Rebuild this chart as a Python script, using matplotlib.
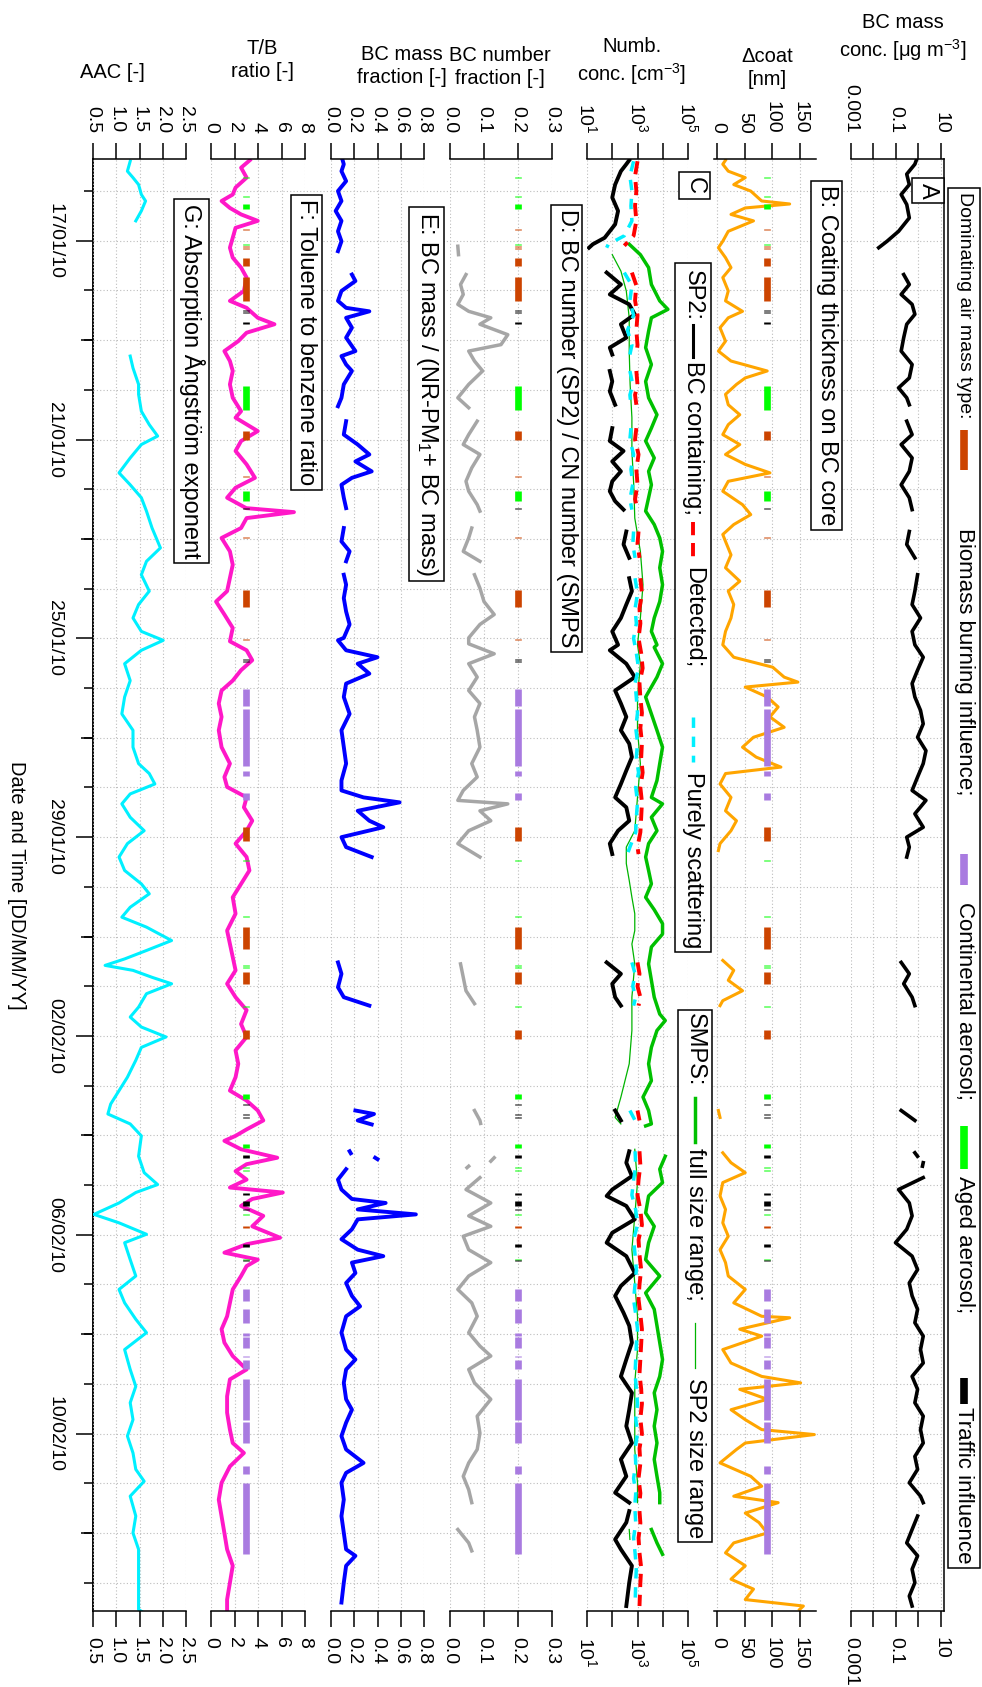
import datetime as dt
import numpy as np
import matplotlib
matplotlib.use("Agg")
import matplotlib.pyplot as plt
import matplotlib.dates as mdates
from matplotlib.lines import Line2D
from matplotlib.patches import Rectangle
from matplotlib.ticker import NullLocator

plt.rcParams['font.family'] = ['Liberation Sans', 'DejaVu Sans']
plt.rcParams['mathtext.fontset'] = 'custom'
plt.rcParams['mathtext.rm'] = 'Liberation Sans'
plt.rcParams['mathtext.it'] = 'Liberation Sans:italic'
plt.rcParams['mathtext.bf'] = 'Liberation Sans:bold'
plt.rcParams['axes.linewidth'] = 1.1

# ---------------- data (time = days after 16/01/2010 00:00) ----------------
T0 = mdates.date2num(dt.datetime(2010, 1, 16))

# A: BC mass conc. [ug m-3]
A_PTS = [(-0.62, 0.80), (-0.54, 0.69), (-0.34, 0.30), (-0.13, 0.39), (0.07, 0.17), (0.27, 0.30),
         (0.54, 0.39), (0.81, 0.13), (1.01, 0.040), (1.14, 0.017), None,
         (1.68, 0.22), (1.88, 0.39), (2.08, 0.17), (2.28, 0.52), (2.48, 0.69), (2.68, 0.30), (2.95, 0.22),
         (3.22, 0.17), (3.49, 0.52), (3.76, 0.39), (3.96, 0.13), (4.16, 0.30), (4.30, 0.39), None,
         (4.63, 0.30), (4.90, 0.52), (5.10, 0.17), (5.37, 0.52), (5.64, 0.39), (5.91, 0.17), (6.17, 0.39),
         (6.41, 0.52), None,
         (6.85, 0.39), (7.11, 0.30), (7.38, 0.69), None,
         (7.72, 0.91), (8.05, 0.69), (8.32, 0.52), (8.59, 1.23), (8.86, 0.52), (9.13, 0.69), (9.38, 1.62),
         (9.64, 0.91), (9.91, 0.52), (10.18, 0.69), (10.45, 1.23), (10.72, 1.62), (10.99, 0.91), (11.26, 2.14),
         (11.52, 1.62), (11.79, 0.91), (12.06, 0.52), (12.26, 2.14), (12.53, 0.69), (12.80, 1.62), (13.00, 0.30),
         (13.20, 0.39), (13.40, 0.30), None,
         (15.52, 0.17), (15.75, 0.39), (15.95, 0.22), (16.22, 0.52), (16.39, 0.69), None,
         (18.50, 0.17), (18.70, 0.69), None,
         (19.35, 0.69), (19.42, 0.90), None, (19.55, 1.62), (19.62, 1.50), None,
         (19.85, 1.62), (20.09, 0.13), (20.36, 0.39), (20.62, 0.52), (20.89, 0.30), (21.16, 0.095), (21.43, 0.52),
         (21.70, 0.91), (21.97, 0.39), (22.23, 0.52), (22.50, 0.91), (22.77, 0.69), (23.04, 1.62), (23.31, 1.23),
         (23.58, 1.62), (23.85, 0.52), (24.11, 0.91), (24.38, 0.69), (24.65, 1.62), (24.92, 1.23), (25.19, 1.62),
         (25.46, 0.69), (25.72, 0.91), (25.99, 0.39), (26.26, 1.23), (26.39, 1.62), None,
         (26.66, 0.91), (26.93, 0.52), (27.20, 0.30), (27.46, 0.91), (27.73, 0.52), (28.00, 0.69), (28.27, 0.39),
         (28.47, 0.52)]

# B: coating thickness [nm]
B_PTS = [(-0.62, 15), (-0.54, 10), (-0.40, 20), (-0.27, 51), (-0.13, 30), (0.00, 61), (0.20, 81), (0.26, 132),
         (0.34, 51), (0.47, 25), (0.60, 66), (0.81, 20), (1.01, 10), (1.14, 2), (1.34, 15), (1.54, 25), (1.74, 10),
         (2.01, 20), (2.21, 15), (2.42, 46), (2.55, 20), (2.75, 5), (3.02, 15), (3.22, 2), (3.42, 25), (3.62, 91),
         (3.76, 51), (3.89, 35), (4.09, 15), (4.30, 20), (4.50, 41), (4.70, 20), (4.90, 10), (5.10, 41), (5.30, 15),
         (5.50, 51), (5.67, 96), (5.84, 20), (6.04, 10), (6.31, 46), (6.51, 61), (6.71, 30), (6.91, 10), (7.05, 15),
         (7.32, 25), (7.58, 15), (7.85, 41), (8.05, 20), (8.32, 30), (8.59, 25), (8.86, 15), (9.13, 10),
         (9.38, 30), (9.58, 101), (9.78, 122), (9.88, 147), (9.98, 51), (10.18, 91), (10.38, 111), (10.58, 96),
         (10.79, 122), (10.99, 66), (11.19, 46), (11.39, 71), (11.59, 116), (11.72, 15), (11.93, 5), (12.20, 25),
         (12.47, 15), (12.67, 35), (12.87, 25), (13.13, 5), (13.27, 2), None,
         (15.48, 10), (15.68, 30), (15.88, 20), (16.09, 46), (16.29, 10), (16.39, 5), None,
         (18.50, 2), (18.64, 5), None,
         (19.35, 10), (19.55, 25), (19.75, 51), (19.95, 10), (20.22, 5), (20.49, 15), (20.76, 10), (21.03, 20),
         (21.30, 5), (21.56, 15), (21.83, 20), (22.10, 51), (22.37, 30), (22.64, 81), (22.67, 132), (22.90, 41),
         (23.04, 81), (23.31, 10), (23.58, 25), (23.85, 81), (23.98, 152), (24.11, 41), (24.31, 91), (24.52, 25),
         (24.72, 51), (24.92, 81), (25.02, 177), (25.19, 51), (25.32, 35), (25.59, 5), (25.86, 61), (26.06, 81),
         (26.26, 30), (26.39, 111), (26.60, 51), (26.79, 76), (27.00, 91), (27.20, 30), (27.40, 15), (27.66, 51),
         (27.93, 25), (28.13, 66), (28.34, 51), (28.47, 157), (28.54, 150)]

# C: number concentrations [cm-3]
C_BC_PTS = [(-0.62, 470), (-0.54, 360), (-0.40, 220), (-0.13, 130), (0.13, 100), (0.40, 170), (0.67, 130),
            (0.94, 50), (1.07, 17), (1.14, 12), None,
            (1.64, 60), (1.88, 220), (2.08, 80), (2.28, 470), (2.48, 780), (2.68, 220), (2.95, 360), (3.15, 80),
            (3.29, 100), None,
            (3.62, 80), (3.83, 100), (4.03, 80), (4.30, 130), None,
            (4.77, 100), (5.03, 80), (5.23, 280), (5.44, 100), (5.64, 220), (5.84, 100), (6.04, 80), (6.24, 130),
            (6.41, 280), None,
            (6.85, 360), (7.11, 280), (7.38, 470), None,
            (7.79, 470), (8.05, 600), (8.32, 360), (8.59, 220), (8.86, 100), (9.13, 170), (9.24, 80), (9.51, 360),
            (9.78, 780), (10.05, 130), (10.31, 220), (10.58, 360), (10.85, 220), (11.12, 470), (11.39, 600),
            (11.66, 360), (11.93, 220), (12.20, 130), (12.40, 360), (12.67, 470), (12.87, 170), (13.13, 80),
            (13.34, 100), None,
            (15.52, 60), (15.75, 220), (15.95, 100), (16.22, 130), (16.39, 220), None,
            (18.50, 130), (18.70, 220), None,
            (19.32, 470), (19.55, 360), (19.82, 600), (20.09, 100), (20.22, 60), (20.42, 360), (20.69, 780),
            (20.96, 100), (21.16, 60), (21.43, 360), (21.77, 780), (22.03, 220), (22.23, 130), (22.57, 280),
            (22.83, 470), (23.17, 600), (23.51, 360), (23.85, 220), (24.18, 600), (24.52, 470), (24.85, 360),
            (25.19, 600), (25.52, 220), (25.86, 360), (26.19, 130), (26.39, 470), None,
            (26.56, 470), (26.79, 360), (27.13, 130), (27.33, 220), (27.66, 600), (28.00, 470), (28.47, 360)]

C_DET_PTS = [(-0.60, 1000), (-0.30, 800), (0.00, 900), (0.30, 800), (0.60, 900), (0.90, 700), (1.10, 300), None,
             (1.64, 600), (1.90, 900), (2.20, 800), (2.50, 1000), (2.80, 900), (3.10, 1000), (3.29, 900), None,
             (3.62, 900), (3.90, 1000), (4.10, 800), (4.30, 900), None,
             (4.77, 900), (5.00, 800), (5.30, 1100), (5.60, 900), (5.90, 1000), (6.20, 800), (6.41, 1000), None,
             (6.85, 1100), (7.10, 1000), (7.38, 1200), None,
             (7.79, 1300), (8.10, 1500), (8.40, 1200), (8.70, 1300), (9.00, 1100), (9.30, 1400), (9.60, 1600),
             (9.90, 1200), (10.20, 1300), (10.50, 1500), (10.80, 1300), (11.10, 1500), (11.40, 1400), (11.70, 1600),
             (12.00, 1300), (12.30, 1500), (12.60, 1400), (12.90, 1300), (13.20, 1000), (13.34, 1100), None,
             (15.52, 1000), (15.75, 1200), (16.00, 1000), (16.22, 1300), (16.39, 1100), None,
             (18.50, 1000), (18.70, 1200), None,
             (19.32, 1200), (19.60, 1300), (19.90, 1100), (20.20, 1000), (20.50, 1300), (20.80, 1500), (21.10, 1100),
             (21.40, 1200), (21.70, 1400), (22.00, 1200), (22.30, 1100), (22.60, 1300), (22.90, 1500), (23.20, 1400),
             (23.50, 1300), (23.80, 1200), (24.10, 1400), (24.40, 1500), (24.70, 1300), (25.00, 1500), (25.30, 1200),
             (25.60, 1300), (25.90, 1100), (26.20, 1300), (26.39, 1200), None,
             (26.56, 1200), (26.80, 1300), (27.10, 1100), (27.40, 1200), (27.70, 1400), (28.00, 1300), (28.47, 1200)]

C_SCAT_PTS = [(-0.60, 700), (-0.30, 500), (0.00, 600), (0.30, 550), (0.60, 600), (0.90, 300), (1.07, 70), (1.14, 60),
              None,
              (1.64, 300), (1.90, 600), (2.20, 500), (2.50, 700), (2.80, 400), (3.10, 600), (3.29, 500), None,
              (3.62, 500), (3.90, 650), (4.10, 500), (4.30, 550), None,
              (4.77, 550), (5.00, 500), (5.30, 700), (5.60, 550), (5.90, 650), (6.20, 500), (6.41, 600), None,
              (6.85, 700), (7.10, 650), (7.38, 800), None,
              (7.79, 800), (8.10, 1000), (8.40, 800), (8.70, 900), (9.00, 700), (9.30, 900), (9.60, 1100), (9.90, 800),
              (10.20, 900), (10.50, 1000), (10.80, 850), (11.10, 1000), (11.40, 900), (11.70, 1100), (12.00, 850),
              (12.30, 1000), (12.60, 900), (12.90, 850), (13.20, 500), (13.34, 400), None,
              (15.52, 600), (15.75, 800), (16.00, 650), (16.22, 850), (16.39, 700), None,
              (18.50, 500), (18.70, 800), None,
              (19.32, 800), (19.60, 850), (19.90, 700), (20.20, 600), (20.50, 850), (20.80, 1000), (21.10, 700),
              (21.40, 800), (21.70, 900), (22.00, 800), (22.30, 700), (22.60, 850), (22.90, 1000), (23.20, 900),
              (23.50, 850), (23.80, 800), (24.10, 900), (24.40, 1000), (24.70, 850), (25.00, 1000), (25.30, 800),
              (25.60, 850), (25.90, 700), (26.20, 850), (26.39, 800), None,
              (26.56, 800), (26.80, 850), (27.10, 700), (27.40, 800), (27.70, 900), (28.00, 850), (28.47, 800)]

C_SMPS_FULL_PTS = [(1.07, 470), (1.28, 1300), (1.54, 2750), (1.88, 3550), (2.21, 7600), (2.38, 16000), (2.55, 3550),
                   (2.82, 2750), (3.15, 2100), (3.49, 3550), (3.83, 2100), (4.16, 2750), (4.50, 5900), (4.77, 3550),
                   (5.03, 2100), (5.37, 4600), (5.64, 2750), (5.91, 3550), (6.17, 2750), (6.44, 2100), (6.71, 4600),
                   (6.98, 7600), (7.25, 9800), (7.58, 7600), (7.92, 9800), (8.26, 7600), (8.59, 4600), (8.86, 3550),
                   (9.13, 5900), (9.18, 4600), (9.51, 9800), (9.78, 5900), (10.18, 2100), (10.52, 3550), (10.85, 5900),
                   (11.19, 9800), (11.52, 7600), (11.86, 5900), (12.20, 3550), (12.33, 9800), (12.60, 3550),
                   (12.87, 5900), (13.13, 2750), (13.40, 2100), (13.67, 2750), (13.94, 3550), (14.21, 2100),
                   (14.46, 4600), (14.74, 9800), (14.95, 9800), (15.21, 3550), (15.55, 2750), (15.88, 3550),
                   (16.22, 4600), (16.56, 7600), (16.69, 12600), (16.89, 5900), (17.23, 3550), (17.56, 2750),
                   (17.90, 3550), (18.23, 1650), (18.50, 2750), (18.77, 3550), (18.81, 2100), None,
                   (19.42, 12600), (19.68, 7600), (19.95, 9800), (20.22, 2750), (20.56, 2100), (20.83, 4600),
                   (21.16, 2750), (21.50, 2100), (21.83, 7600), (22.17, 2100), (22.50, 4600), (22.83, 5900),
                   (23.17, 7600), (23.51, 9800), (23.85, 7600), (24.18, 4600), (24.52, 5900), (24.85, 4600),
                   (25.19, 5900), (25.52, 4600), (25.86, 5900), (26.19, 7600), (26.39, 7600), None,
                   (26.93, 3550), (27.20, 5900), (27.43, 9800)]

C_SMPS_SP2_PTS = [(1.28, 100), (1.61, 220), (2.01, 360), (2.55, 470), (3.22, 470), (3.89, 510), (4.56, 600),
                  (5.23, 600), (5.91, 710), (6.58, 780), (7.25, 1300), (7.92, 1650), (8.59, 1300), (9.13, 1000),
                  (9.51, 1300), (10.18, 1000), (10.85, 1000), (11.52, 1300), (12.20, 1000), (12.87, 780),
                  (13.20, 360), (13.53, 360), (13.87, 470), (14.21, 600), (14.54, 780), (14.88, 780), (15.15, 600),
                  (15.55, 780), (16.22, 600), (16.89, 600), (17.56, 470), (18.23, 220), (18.64, 130), (18.77, 220),
                  None,
                  (19.28, 780), (19.95, 1000), (20.62, 780), (21.30, 600), (21.97, 780), (22.64, 1000), (23.31, 1000),
                  (23.98, 780), (24.65, 780), (25.32, 780), (25.99, 1000), (26.39, 1000), None,
                  (26.93, 470), (27.13, 500)]

# D: BC number fraction [-]
D_PTS = [(1.11, 0.023), (1.28, 0.025), None,
         (1.68, 0.047), (1.88, 0.031), (2.08, 0.039), (2.28, 0.023), (2.42, 0.055), (2.55, 0.12), (2.68, 0.088),
         (2.89, 0.17), (3.09, 0.15), (3.22, 0.055), (3.42, 0.072), (3.62, 0.096), (3.89, 0.055), (4.16, 0.023),
         (4.36, 0.055), None,
         (4.63, 0.080), (4.90, 0.055), (5.10, 0.039), (5.30, 0.088), (5.57, 0.064), (5.84, 0.047), (6.04, 0.055),
         (6.31, 0.080), (6.44, 0.088), None,
         (6.78, 0.064), (6.98, 0.055), (7.25, 0.039), (7.45, 0.088), None,
         (7.72, 0.072), (7.99, 0.088), (8.26, 0.10), (8.52, 0.13), (8.72, 0.088), (8.99, 0.055), (9.11, 0.055),
         (9.31, 0.13), (9.51, 0.055), (9.78, 0.080), (10.05, 0.055), (10.31, 0.088), (10.58, 0.072), (10.85, 0.080),
         (11.19, 0.088), (11.52, 0.064), (11.79, 0.080), (12.06, 0.039), (12.26, 0.023), (12.33, 0.17),
         (12.47, 0.088), (12.67, 0.12), (12.87, 0.055), (13.13, 0.023), (13.40, 0.088), None,
         (15.55, 0.031), (15.82, 0.039), (16.09, 0.047), (16.35, 0.072), None,
         (18.50, 0.072), (18.70, 0.088), (18.76, 0.090), None,
         (19.45, 0.13), (19.52, 0.12), None, (19.62, 0.055), (19.65, 0.050), None,
         (19.85, 0.088), (20.09, 0.047), (20.36, 0.12), (20.62, 0.055), (20.83, 0.12), (21.03, 0.039),
         (21.30, 0.055), (21.56, 0.12), (21.83, 0.055), (22.10, 0.023), (22.37, 0.064), (22.64, 0.080),
         (22.97, 0.055), (23.24, 0.088), (23.44, 0.12), (23.71, 0.055), (23.98, 0.072), (24.31, 0.12),
         (24.65, 0.080), (24.99, 0.088), (25.32, 0.080), (25.59, 0.055), (25.86, 0.039), (26.13, 0.055),
         (26.39, 0.064), None,
         (26.93, 0.023), (27.20, 0.055), (27.36, 0.064)]

# E: BC mass fraction [-]
E_PTS = [(-0.62, 0.10), (-0.54, 0.11), (-0.40, 0.09), (-0.20, 0.13), (0.00, 0.06), (0.20, 0.09), (0.40, 0.04),
         (0.60, 0.09), (0.81, 0.06), (1.01, 0.09), (1.21, 0.06), None,
         (1.68, 0.18), (1.81, 0.21), (2.01, 0.09), (2.21, 0.06), (2.35, 0.13), (2.42, 0.33), (2.55, 0.13),
         (2.75, 0.18), (2.95, 0.13), (3.22, 0.21), (3.32, 0.09), (3.49, 0.13), (3.62, 0.18), (3.89, 0.11),
         (4.16, 0.09), (4.33, 0.06), None,
         (4.63, 0.13), (4.90, 0.11), (5.10, 0.23), (5.30, 0.33), (5.44, 0.21), (5.64, 0.35), (5.77, 0.18),
         (5.91, 0.09), (6.17, 0.11), (6.38, 0.13), None,
         (6.78, 0.11), (7.05, 0.09), (7.25, 0.16), (7.45, 0.13), None,
         (7.72, 0.11), (7.92, 0.13), (8.19, 0.11), (8.46, 0.13), (8.72, 0.16), (8.99, 0.11), (9.04, 0.06),
         (9.24, 0.13), (9.38, 0.40), (9.51, 0.23), (9.71, 0.33), (9.91, 0.13), (10.18, 0.11), (10.52, 0.16),
         (10.85, 0.09), (11.19, 0.11), (11.52, 0.13), (11.86, 0.09), (12.06, 0.09), (12.20, 0.28), (12.30, 0.59),
         (12.47, 0.23), (12.67, 0.33), (12.80, 0.45), (13.00, 0.09), (13.20, 0.13), (13.40, 0.35), None,
         (15.52, 0.06), (15.75, 0.09), (16.02, 0.06), (16.22, 0.11), (16.39, 0.33), None,
         (18.50, 0.21), (18.57, 0.37), (18.70, 0.23), (18.78, 0.35), None,
         (19.32, 0.16), (19.36, 0.17), None, (19.45, 0.38), (19.48, 0.40), None,
         (19.68, 0.13), (19.89, 0.06), (20.09, 0.09), (20.28, 0.18), (20.36, 0.47), (20.49, 0.23), (20.59, 0.73),
         (20.69, 0.23), (20.89, 0.18), (21.09, 0.09), (21.30, 0.23), (21.43, 0.45), (21.56, 0.18), (21.77, 0.21),
         (21.97, 0.13), (22.23, 0.18), (22.44, 0.25), (22.64, 0.13), (22.97, 0.09), (23.31, 0.13), (23.51, 0.21),
         (23.71, 0.13), (23.98, 0.11), (24.31, 0.13), (24.52, 0.18), (24.78, 0.13), (25.05, 0.09), (25.32, 0.13),
         (25.59, 0.28), (25.79, 0.13), (25.99, 0.09), (26.33, 0.11), (26.66, 0.09), (27.00, 0.11), (27.33, 0.13),
         (27.46, 0.21), (27.66, 0.13), (28.00, 0.11), (28.40, 0.09)]

# F: toluene / benzene ratio [-]
F_PTS = [(-0.62, 3.3), (-0.47, 2.56), (-0.27, 3.03), (-0.07, 2.09), (0.07, 1.85), (0.20, 0.90), (0.34, 1.61),
         (0.47, 2.56), (0.60, 3.98), (0.74, 2.09), (0.94, 1.85), (1.14, 1.61), (1.34, 1.85), (1.54, 2.56),
         (1.74, 3.03), (2.01, 2.80), (2.21, 1.61), (2.35, 3.03), (2.55, 3.98), (2.68, 5.40), (2.85, 3.03),
         (3.02, 2.32), (3.22, 1.14), (3.42, 1.61), (3.62, 1.85), (3.89, 1.61), (4.16, 1.85), (4.43, 2.56),
         (4.56, 2.09), (4.83, 3.98), (5.03, 2.56), (5.23, 2.09), (5.50, 3.03), (5.77, 3.74), (5.97, 2.09),
         (6.17, 1.37), (6.38, 3.00), (6.46, 7.06), (6.58, 3.03), (6.78, 2.56), (6.98, 0.90), (7.25, 1.61),
         (7.52, 1.85), (7.79, 1.61), (8.05, 1.37), (8.26, 0.43), (8.52, 1.14), (8.79, 1.85), (9.06, 1.61),
         (9.24, 3.03), (9.44, 3.51), (9.64, 2.56), (9.85, 1.85), (10.05, 0.90), (10.31, 0.66), (10.58, 0.90),
         (10.85, 0.66), (11.19, 0.90), (11.52, 1.61), (11.79, 1.14), (11.99, 1.37), (12.20, 3.03), (12.40, 2.80),
         (12.67, 3.51), (12.87, 3.03), (13.13, 2.09), (13.40, 3.03), (13.67, 3.27), (13.94, 2.56), (14.21, 1.85),
         (14.54, 2.09), (14.88, 1.37), (15.15, 1.61), (15.42, 1.85), (15.68, 2.09), (15.95, 1.37), (16.22, 2.09),
         (16.48, 3.03), (16.76, 2.56), (17.02, 3.03), (17.29, 2.09), (17.56, 2.32), (17.83, 2.09), (18.10, 1.61),
         (18.30, 3.03), (18.50, 3.98), (18.70, 4.45), (18.88, 3.03), (19.01, 2.09), (19.11, 1.14), (19.28, 2.56),
         (19.45, 5.64), (19.58, 3.03), (19.72, 2.09), (19.89, 3.03), (20.05, 1.61), (20.15, 6.11), (20.28, 3.51),
         (20.42, 2.56), (20.62, 4.45), (20.83, 3.51), (21.06, 5.88), (21.19, 3.03), (21.36, 1.14), (21.50, 3.98),
         (21.63, 3.03), (21.83, 2.56), (22.10, 1.85), (22.37, 1.61), (22.64, 1.37), (22.90, 0.90), (23.17, 1.14),
         (23.44, 1.85), (23.71, 3.03), (23.91, 1.61), (24.25, 1.37), (24.58, 1.37), (24.92, 1.61), (25.19, 1.85),
         (25.39, 2.80), (25.66, 1.61), (25.99, 0.90), (26.33, 0.66), (26.66, 0.90), (27.00, 1.14), (27.33, 1.37),
         (27.66, 1.85), (28.00, 1.61), (28.34, 1.37), (28.61, 1.37)]

# G: absorption Angstrom exponent [-]
G_PTS = [(-0.60, 1.30), (-0.40, 1.24), (-0.27, 1.36), (-0.13, 1.48), (0.07, 1.54), (0.20, 1.63), (0.40, 1.54),
         (0.60, 1.42), None,
         (3.32, 1.30), (3.56, 1.36), (3.89, 1.48), (4.09, 1.48), (4.43, 1.54), (4.70, 1.71), (4.93, 1.89),
         (5.10, 1.54), (5.37, 1.30), (5.67, 1.06), (5.91, 1.30), (6.17, 1.54), (6.44, 1.65), (6.78, 1.77),
         (7.18, 1.95), (7.45, 1.65), (7.72, 1.54), (8.05, 1.71), (8.32, 1.48), (8.59, 1.36), (8.86, 1.54),
         (9.04, 2.01), (9.24, 1.54), (9.51, 1.18), (9.85, 1.30), (10.18, 1.18), (10.52, 1.12), (10.85, 1.36),
         (11.19, 1.36), (11.52, 1.48), (11.72, 1.71), (11.93, 1.83), (12.13, 1.30), (12.33, 1.12), (12.60, 1.30),
         (12.87, 1.60), (13.13, 1.24), (13.40, 1.06), (13.67, 1.18), (13.94, 1.54), (14.14, 1.71), (14.41, 1.30),
         (14.61, 1.12), (14.81, 1.65), (15.08, 2.19), (15.28, 1.65), (15.45, 1.18), (15.58, 0.76), (15.68, 1.36),
         (15.82, 1.77), (15.95, 2.19), (16.15, 1.65), (16.42, 1.48), (16.62, 1.30), (16.82, 1.54), (17.02, 2.07),
         (17.23, 1.54), (17.49, 1.42), (17.83, 1.24), (18.10, 1.06), (18.37, 0.88), (18.57, 0.82), (18.77, 1.30),
         (19.01, 1.54), (19.42, 1.48), (19.75, 1.60), (19.99, 1.89), (20.15, 1.42), (20.36, 1.06), (20.59, 0.52),
         (20.76, 1.06), (20.99, 1.65), (21.16, 1.18), (21.50, 1.30), (21.83, 1.42), (22.10, 1.06), (22.37, 1.18),
         (22.70, 1.42), (22.97, 1.65), (23.31, 1.18), (23.71, 1.30), (24.05, 1.42), (24.38, 1.30), (24.72, 1.36),
         (25.05, 1.24), (25.39, 1.36), (25.72, 1.42), (25.96, 1.60), (26.26, 1.30), (26.66, 1.42), (27.00, 1.36),
         (27.33, 1.48), (28.54, 1.48), (28.61, 1.60)]

# dominating air mass type: (start, end, type)
AIRMASS = [(-0.28, -0.26, 'ag'), (0.09, 0.11, 'ag'), (0.27, 0.37, 'ag'), (0.76, 0.78, 'bb'), (1.06, 1.08, 'ag'),
           (1.10, 1.12, 'bb'), (1.15, 1.17, 'bb'), (1.34, 1.51, 'bb'), (1.73, 2.21, 'bb'), (2.39, 2.41, 'tr'),
           (2.44, 2.46, 'tr'), (2.64, 2.68, 'tr'), (3.93, 4.40, 'ag'), (4.83, 5.00, 'bb'), (5.73, 5.75, 'bb'),
           (6.04, 6.24, 'ag'), (6.37, 6.40, 'tr'), (6.97, 6.99, 'bb'), (8.02, 8.36, 'bb'), (9.02, 9.04, 'bb'),
           (9.41, 9.43, 'tr'), (9.46, 9.48, 'tr'), (10.01, 10.37, 'co'), (10.42, 11.56, 'co'), (11.66, 11.76, 'co'),
           (12.11, 12.26, 'co'), (12.80, 13.07, 'bb'), (13.46, 13.48, 'ag'), (14.59, 14.61, 'ag'),
           (14.80, 15.25, 'bb'), (15.57, 15.59, 'ag'), (15.62, 15.64, 'ag'), (15.72, 15.95, 'bb'),
           (16.39, 16.41, 'ag'), (16.89, 17.06, 'bb'), (18.17, 18.27, 'ag'), (18.36, 18.38, 'tr'),
           (18.57, 18.59, 'tr'), (18.64, 18.66, 'tr'), (19.17, 19.25, 'ag'), (19.39, 19.46, 'tr'),
           (19.64, 19.66, 'ag'), (19.69, 19.71, 'ag'), (20.15, 20.20, 'tr'), (20.33, 20.42, 'tr'),
           (20.49, 20.51, 'tr'), (20.58, 20.60, 'ag'), (20.83, 20.87, 'bb'), (21.18, 21.24, 'tr'),
           (21.48, 21.50, 'ag'), (21.51, 21.53, 'tr'), (22.09, 22.33, 'co'), (22.50, 22.77, 'co'),
           (22.97, 23.03, 'co'), (23.05, 23.28, 'co'), (23.43, 23.45, 'co'), (23.51, 23.70, 'co'),
           (23.91, 24.73, 'co'), (24.76, 25.19, 'co'), (25.66, 25.81, 'co'), (25.99, 27.43, 'co')]
AM_COLORS = {'bb': '#CC4400', 'co': '#A97BE0', 'ag': '#00FF00', 'tr': '#000000'}
AM_LABELS = ['Biomass burning influence;', 'Continental aerosol;', 'Aged aerosol;', 'Traffic influence']

LABEL_DAYS = ['2010-01-17', '2010-01-21', '2010-01-25', '2010-01-29', '2010-02-02', '2010-02-06', '2010-02-10']
MID_DAYS = ['2010-01-19', '2010-01-23', '2010-01-27', '2010-01-31', '2010-02-04', '2010-02-08', '2010-02-12']


def unpack(pts):
    t, v = [], []
    for p in pts:
        if p is None:
            t.append(np.nan)
            v.append(np.nan)
        else:
            t.append(T0 + p[0])
            v.append(p[1])
    return np.array(t), np.array(v)


# ---------------- layout ----------------
W, H = 982, 1687
AX_TOP, AX_BOT = 159, 1611
TMIN, TMAX = -0.645, 28.57
fig = plt.figure(figsize=(W / 100, H / 100), dpi=100)
fig.patch.set_facecolor('white')


def fx(px):
    return px / W


def fy(py):
    return 1 - py / H


def add_ax(x0, x1):
    return fig.add_axes([fx(x0), fy(AX_BOT), (x1 - x0) / W, (AX_BOT - AX_TOP) / H])


GRID = dict(ls=(0, (1, 2)), color='#bdbdbd', lw=0.8)

# background axes: time axis + daily grid
bg = add_ax(92.5, 944)
bg.set_xlim(0, 1)
bg.set_xticks([])
bg.set_ylim(T0 + TMAX, T0 + TMIN)
bg.spines['top'].set_visible(False)
bg.spines['bottom'].set_visible(False)
lab_nums = [mdates.datestr2num(d) for d in LABEL_DAYS]
bg.set_yticks(lab_nums, [mdates.num2date(d).strftime('%d/%m/%y') for d in lab_nums],
              rotation=-90, va='center', fontsize=14)
bg.yaxis.set_minor_locator(mdates.DayLocator())
bg.tick_params(axis='y', which='major', direction='out', length=12.2, width=1.1, pad=9)
bg.tick_params(axis='y', which='minor', direction='out', length=6.5, width=1.1)
bg.grid(axis='y', which='both', **GRID)
sec = bg.secondary_yaxis('left')
sec.set_yticks([mdates.datestr2num(d) for d in MID_DAYS], [''] * len(MID_DAYS))
sec.yaxis.set_minor_locator(NullLocator())
sec.tick_params(axis='y', direction='out', length=9, width=1.1)


def panel(x0, x1, lim, ticks, labels, log=False):
    ax = add_ax(x0, x1)
    ax.set_facecolor('none')
    if log:
        ax.set_xscale('log')
    ax.set_xlim(*lim)
    ax.set_ylim(T0 + TMAX, T0 + TMIN)
    ax.set_xticks(ticks, labels)
    ax.xaxis.set_minor_locator(NullLocator())
    ax.set_yticks([])
    ax.yaxis.set_minor_locator(NullLocator())
    ax.tick_params(axis='x', which='major', direction='out', length=11.5, width=1.1, labelsize=14, pad=7,
                   top=True, bottom=True, labeltop=True, labelbottom=True, labelrotation=-90)
    ax.spines['left'].set_visible(False)
    ax.spines['right'].set_visible(False)
    ax.grid(axis='x', **GRID)
    return ax


axG = panel(93, 186, (0.5, 2.5), [0.5, 1.0, 1.5, 2.0, 2.5], ['0.5', '1.0', '1.5', '2.0', '2.5'])
axF = panel(211, 305, (0, 8), [0, 2, 4, 6, 8], ['0', '2', '4', '6', '8'])
axE = panel(331, 424, (0, 0.8), [0, 0.2, 0.4, 0.6, 0.8], ['0.0', '0.2', '0.4', '0.6', '0.8'])
axD = panel(450, 552, (0, 0.3), [0, 0.1, 0.2, 0.3], ['0.0', '0.1', '0.2', '0.3'])
axC = panel(587, 688, (10, 1e5), [1e1, 1e2, 1e3, 1e4, 1e5],
            ['$10^{1}$', '', '$10^{3}$', '', '$10^{5}$'], log=True)
axB = panel(714, 816, (-6, 180), [0, 50, 100, 150], ['0', '50', '100', '150'])
axA = panel(851, 944, (1e-3, 13.6), [1e-3, 1e-2, 1e-1, 1, 10], ['0.001', '', '0.1', '', '10'], log=True)

# ---------------- data lines ----------------
t, v = unpack(G_PTS)
axG.plot(v, t, color='#00F0FF', lw=2.2)
t, v = unpack(F_PTS)
axF.plot(v, t, color='#FF18C8', lw=2.8, solid_joinstyle='round')
t, v = unpack(E_PTS)
axE.plot(v, t, color='#0000FF', lw=2.8, solid_joinstyle='round')
t, v = unpack(D_PTS)
axD.plot(v, t, color='#A6A6A6', lw=2.5)
t, v = unpack(C_SMPS_SP2_PTS)
axC.plot(v, t, color='#00B400', lw=0.9)
t, v = unpack(C_SMPS_FULL_PTS)
axC.plot(v, t, color='#00C000', lw=2.5)
t, v = unpack(C_BC_PTS)
axC.plot(v, t, color='black', lw=2.8)
t, v = unpack(C_DET_PTS)
axC.plot(v, t, color='#FF0000', lw=2.8, ls=(0, (3.4, 2)))
t, v = unpack(C_SCAT_PTS)
axC.plot(v, t, color='#00F0FF', lw=2.5, ls=(0, (3, 2.5)))
t, v = unpack(B_PTS)
axB.plot(v, t, color='#FFA500', lw=2.2)
t, v = unpack(A_PTS)
axA.plot(v, t, color='black', lw=2.6)

# air-mass classification bars in panels B, D and F
am_start = [T0 + s for s, e, c in AIRMASS]
am_end = [T0 + e for s, e, c in AIRMASS]
am_col = [AM_COLORS[c] for s, e, c in AIRMASS]
for ax, xv in ((axB, 90), (axD, 0.2), (axF, 3.0)):
    ax.vlines([xv] * len(AIRMASS), am_start, am_end, colors=am_col, lw=4.8, capstyle='butt')

# ---------------- text ----------------
TXT = dict(ha='center', va='center', fontsize=14.5, linespacing=1.3)
fig.text(fx(112), fy(72), 'AAC [-]', **TXT)
fig.text(fx(262), fy(60), 'T/B\nratio [-]', **TXT)
fig.text(fx(402), fy(66), 'BC mass\nfraction [-]', **TXT)
fig.text(fx(500), fy(67), 'BC number\nfraction [-]', **TXT)
fig.text(fx(632), fy(62), 'Numb.\nconc. [cm$^{-3}$]', **TXT)
fig.text(fx(767), fy(68), '\u0394coat\n[nm]', **TXT)
fig.text(fx(903), fy(38), 'BC mass\nconc. [\u03bcg m$^{-3}$]', **TXT)
fig.text(fx(16), fy(885), 'Date and Time [DD/MM/YY]', rotation=-90, ha='center', va='center', fontsize=14.5)

BOX = dict(boxstyle='square,pad=0.2', fc='white', ec='black', lw=1.1)
PL = dict(rotation=-90, ha='center', va='center', fontsize=17, bbox=BOX, zorder=5)
fig.text(fx(928), fy(190.5), 'A', **PL)
fig.text(fx(826.5), fy(355.5), 'B: Coating thickness on BC core', **PL)
fig.text(fx(694.5), fy(185.5), 'C', **PL)
fig.text(fx(566.5), fy(428.5), 'D: BC number (SP2) / CN number (SMPS', **PL)
fig.text(fx(426.5), fy(394), 'E: BC mass / (NR-PM$_1$+ BC mass)', **PL)
fig.text(fx(306.5), fy(342.5), 'F: Toluene to benzene ratio', **PL)
fig.text(fx(191.5), fy(381), 'G: Absorption \u00c5ngstr\u00f6m exponent', **PL)


def legend_box(x0, x1, y0, y1):
    fig.add_artist(Rectangle((fx(x0), fy(y1)), (x1 - x0) / W, (y1 - y0) / H, transform=fig.transFigure,
                             fc='white', ec='black', lw=1.1, zorder=4))


def legend_line(x, y0, y1, **kw):
    fig.add_artist(Line2D([fx(x), fx(x)], [fy(y0), fy(y1)], transform=fig.transFigure, zorder=5, **kw))


def legend_text(x, y, s, size=17):
    fig.text(fx(x), fy(y), s, rotation=-90, ha='center', va='center', fontsize=size, zorder=5)


# SP2 legend
legend_box(675, 711, 263, 952)
legend_text(693, 296, 'SP2:')
legend_line(693, 325, 357, color='black', lw=2.2)
legend_text(693, 438, 'BC containing;')
legend_line(693, 522, 562, color='#FF0000', lw=2.8, ls=(0, (3.4, 2)))
legend_text(693, 618, 'Detected;')
legend_line(693, 717, 762, color='#00F0FF', lw=2.5, ls=(0, (3, 2.5)))
legend_text(693, 860, 'Purely scattering')

# SMPS legend
legend_box(678, 712, 1010, 1542)
legend_text(695, 1050, 'SMPS:')
legend_line(695, 1098, 1142, color='#00C000', lw=2.5)
legend_text(695, 1224, 'full size range;')
legend_line(695, 1323, 1368, color='#00B400', lw=0.9)
legend_text(695, 1458, 'SP2 size range')

# air mass legend
legend_box(948, 980, 188, 1568)
legend_text(964, 305, 'Dominating air mass type:', size=14)
am_keys = ['bb', 'co', 'ag', 'tr']
am_bar = [(430, 470), (854, 885), (1126, 1169), (1378, 1404)]
am_txt_y = [662, 1001, 1245, 1485]
for key, (b0, b1), ty, lab in zip(am_keys, am_bar, am_txt_y, AM_LABELS):
    legend_line(964, b0, b1, color=AM_COLORS[key], lw=5.5, solid_capstyle='butt')
    legend_text(964, ty, lab, size=16)

fig.savefig('out.png', dpi=100)
